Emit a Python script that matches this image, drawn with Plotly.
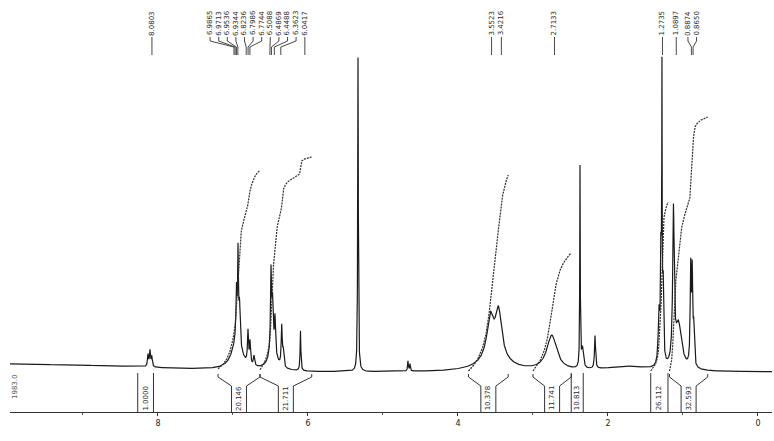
import numpy as np
import plotly.graph_objects as go

# ---------------- data ----------------
# spectrum peaks: chemical shift (ppm), height (arbitrary units), half width (ppm)
peak_ppm = [8.133, 8.107, 8.083,
            6.95, 6.953, 6.933, 6.913, 6.800, 6.773, 6.72,
            6.47, 6.493, 6.473, 6.440, 6.350, 6.330, 6.100,
            5.333, 4.667, 4.640,
            3.570, 3.460, 3.520,
            2.750, 2.373, 2.340, 2.173, 1.75,
            1.320, 1.293, 1.280, 1.265,
            1.127, 1.060, 0.897, 0.877, 0.857]
peak_height = [12, 16, 10,
               28, 50, 85, 40, 32, 22, 10,
               20, 78, 45, 35, 40, 15, 40,
               314, 10, 7,
               38, 45, 15,
               35, 200, 20, 33, 5,
               50, 120, 255, 80,
               150, 45, 95, 90, 35]
peak_hwhm = [0.008, 0.008, 0.008,
             0.08, 0.008, 0.006, 0.010, 0.008, 0.008, 0.010,
             0.06, 0.008, 0.010, 0.008, 0.008, 0.008, 0.006,
             0.005, 0.006, 0.006,
             0.05, 0.05, 0.20,
             0.08, 0.004, 0.015, 0.008, 0.35,
             0.012, 0.008, 0.003, 0.008,
             0.012, 0.05, 0.008, 0.008, 0.008]

baseline_ppm = [-0.19, 6.0, 7.6, 8.6, 9.97]
baseline_level = [0, 0, 3, 6, 8]

# integrals
integral_start = [8.27, 7.20, 6.64, 3.86, 3.00, 2.49, 1.43, 1.18]
integral_end = [8.06, 6.64, 5.95, 3.33, 2.49, 2.33, 1.20, 0.67]
integral_top = [None, 202, 215, 197, 119, None, 170, 255]
integral_text = ["1.0000", "20.146", "21.711", "10.378", "11.741", "10.813", "26.112", "32.593"]

# peak picking labels
peak_labels = [8.0803,
               6.9865, 6.9713, 6.9536, 6.9344, 6.8236, 6.7986, 6.7744,
               6.5088, 6.4869, 6.4488, 6.3623, 6.0417,
               3.5523, 3.4216, 2.7133,
               1.2735, 1.0897, 0.8874, 0.8650]

tick_vals = [8, 6, 4, 2, 0]
tick_text = ["8", "6", "4", "2", "0"]
side_label = "1983.0"
axis_title = "(ppm)"

# ---------------- build ----------------
X_LEFT, X_RIGHT = 9.973, -0.187
PX_PER_PPM = 75.0

grid = np.linspace(X_LEFT, X_RIGHT, 8000)
grid = np.unique(np.concatenate([grid, np.array(peak_ppm)]))[::-1]
base = np.interp(grid, baseline_ppm, baseline_level)
spec = base.copy()
for p, h, w in zip(peak_ppm, peak_height, peak_hwhm):
    spec += h * w * w / ((grid - p) ** 2 + w * w)

line_col = "#1a1a1a"
fig = go.Figure()
fig.add_trace(go.Scatter(x=grid, y=spec, mode="lines",
                         line=dict(color=line_col, width=1.2), hoverinfo="skip"))

# integral curves
for s, e, top in zip(integral_start, integral_end, integral_top):
    if top is None:
        continue
    m = (grid <= s) & (grid >= e)
    xs = grid[m]
    ys = spec[m] - base[m]
    cum = np.concatenate([[0.0], np.cumsum((ys[1:] + ys[:-1]) / 2 * np.abs(np.diff(xs)))])
    y0 = float(np.interp(s, baseline_ppm, baseline_level)) + 1
    curve = y0 + cum / cum[-1] * (top - y0)
    fig.add_trace(go.Scatter(x=xs, y=curve, mode="lines",
                             line=dict(color="#2e2e2e", width=1.2, dash="2px,1px"),
                             hoverinfo="skip"))

# integral brackets / boxes
AX_Y = -40
annotations = []
bx, by = [], []
for s, e, txt in zip(integral_start, integral_end, integral_text):
    width_px = (s - e) * PX_PER_PPM
    mid = (s + e) / 2
    if width_px < 22:
        bx += [s, s, None, e, e, None]
        by += [-1, AX_Y, None, -1, AX_Y, None]
    else:
        hl = 7.5 / PX_PER_PPM
        bl, br = mid + hl, mid - hl
        bx += [s, s, bl, bl, None, br, br, e, e, None]
        by += [-2, -5, -14, AX_Y, None, AX_Y, -14, -5, -2, None]
    annotations.append(dict(x=mid, y=-26, text=txt, textangle=-90, showarrow=False,
                            font=dict(size=7, color="#2a2a2a", family="DejaVu Sans"),
                            xanchor="center", yanchor="middle"))
fig.add_trace(go.Scatter(x=bx, y=by, mode="lines", line=dict(color="#333", width=1),
                         hoverinfo="skip"))

# peak labels at top
def ppm_to_px(p):
    return 10 + (X_LEFT - p) * PX_PER_PPM

def px_to_ppm(px):
    return X_LEFT - (px - 10) / PX_PER_PPM

peak_px = [ppm_to_px(p) for p in peak_labels]
order = np.argsort(peak_px)
cols = [peak_px[i] for i in order]
GAP = 8.6
for _ in range(2000):
    moved = False
    for i in range(len(cols) - 1):
        d = cols[i + 1] - cols[i]
        if d < GAP - 1e-6:
            push = (GAP - d) / 2
            cols[i] -= push
            cols[i + 1] += push
            moved = True
    if not moved:
        break

lx, ly = [], []
for k, i in enumerate(order):
    cp = px_to_ppm(cols[k])
    pp = peak_labels[i]
    lx += [cp, cp, pp, pp, None]
    ly += [335, 331, 325, 317, None]
    annotations.append(dict(x=cp, y=349, text=f"{peak_labels[i]:.4f}", textangle=-90,
                            showarrow=False,
                            font=dict(size=7, color="#2a2a2a", family="DejaVu Sans"),
                            xanchor="center", yanchor="middle"))
fig.add_trace(go.Scatter(x=lx, y=ly, mode="lines", line=dict(color="#333", width=0.9),
                         hoverinfo="skip"))

annotations.append(dict(x=px_to_ppm(15), y=-15, text=side_label, textangle=-90, showarrow=False,
                        font=dict(size=7, color="#555", family="DejaVu Sans"),
                        xanchor="center", yanchor="middle"))
annotations.append(dict(x=px_to_ppm(402), y=-64, text=axis_title, showarrow=False,
                        font=dict(size=7, color="#333", family="DejaVu Sans"),
                        xanchor="center", yanchor="middle"))

fig.update_layout(
    width=774, height=441,
    margin=dict(l=10, r=2, t=0, b=29),
    paper_bgcolor="white", plot_bgcolor="white",
    showlegend=False, hovermode=False,
    annotations=annotations,
    xaxis=dict(range=[X_LEFT, X_RIGHT], showgrid=False, zeroline=False,
               showline=True, linecolor="#333", linewidth=1,
               ticks="outside", ticklen=3, tickcolor="#333", tickwidth=1,
               tickvals=tick_vals, ticktext=tick_text,
               tickfont=dict(size=8, color="#222", family="DejaVu Sans"),
               minor=dict(dtick=1, ticks="outside", ticklen=2, tickcolor="#555")),
    yaxis=dict(range=[-40, 372], visible=False, showgrid=False, zeroline=False),
)

fig.write_html("out.html")
